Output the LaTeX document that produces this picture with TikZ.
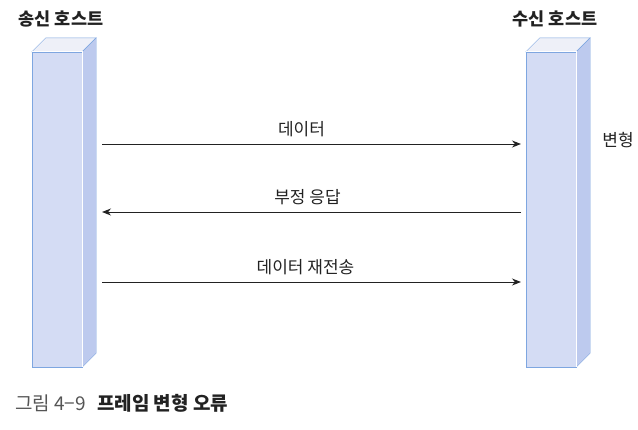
\documentclass[tikz,border=0pt]{standalone}
\usepackage{fontspec}
\setmainfont{Noto Sans CJK KR}
\usetikzlibrary{arrows.meta,positioning}
\definecolor{hostfront}{HTML}{D4DCF4}
\definecolor{hostside}{HTML}{BDCAEE}
\definecolor{hosttop}{HTML}{EEF0F8}
\definecolor{hostedge}{HTML}{7EA6E0}
\definecolor{textdark}{HTML}{222222}
\definecolor{capgray}{HTML}{555555}

\begin{document}
\begin{tikzpicture}[x=1pt,y=-1pt,>={Stealth[length=9pt,width=7pt]},
  front/.style={draw=hostedge,fill=hostfront,minimum width=50pt,minimum height=315pt,inner sep=0pt},
  ttl/.style={font=\bfseries\fontsize{17.5}{20}\selectfont,text=textdark},
  lbl/.style={font=\fontsize{17}{20}\selectfont,text=textdark},
  msg/.style={->,line width=1pt,draw=textdark}]
  \useasboundingbox (0,0) rectangle (638,429);
  % hosts
  \node[front] (snd) at (57,209.5) {};
  \node[front] (rcv) at (551,209.5) {};
  \foreach \h in {snd,rcv}{
    \draw[draw=hostedge,fill=hosttop] (\h.north west) -- ++(14,-14) -- ([shift={(14,-14)}]\h.north east) -- (\h.north east) -- cycle;
    \draw[draw=hostedge,fill=hostside] (\h.north east) -- ++(14,-14) -- ([shift={(14,-14)}]\h.south east) -- (\h.south east) -- cycle;
    \draw[white,line width=.8pt] (\h.north west) -- (\h.north east) -- (\h.south east);}
  \node[ttl] (sndname) at (61,19) {송신 호스트};
  \node[ttl] (rcvname) at (555,19) {수신 호스트};
  \node[lbl] (mod) at (618,140) {변형};
  % messages
  \coordinate (m1a) at (102,144);\coordinate (m1b) at (521,144);
  \coordinate (m2a) at (521,212);\coordinate (m2b) at (102,212);
  \coordinate (m3a) at (102,282);\coordinate (m3b) at (521,282);
  \draw[msg] (m1a) -- node[lbl,above=3pt,xshift=-10pt] (t1) {데이터} (m1b);
  \draw[msg] (m2a) -- node[lbl,above=3pt,xshift=-4pt] (t2) {부정 응답} (m2b);
  \draw[msg] (m3a) -- node[lbl,above=3pt,xshift=-6pt] (t3) {데이터 재전송} (m3b);
  % caption
  \node[lbl,anchor=west,inner sep=0pt,font=\fontsize{19}{22}\selectfont] (cap) at (15,403) {\textcolor{capgray}{그림 4−9}\hspace{11pt}\textbf{프레임 변형 오류}};
\end{tikzpicture}
\end{document}
